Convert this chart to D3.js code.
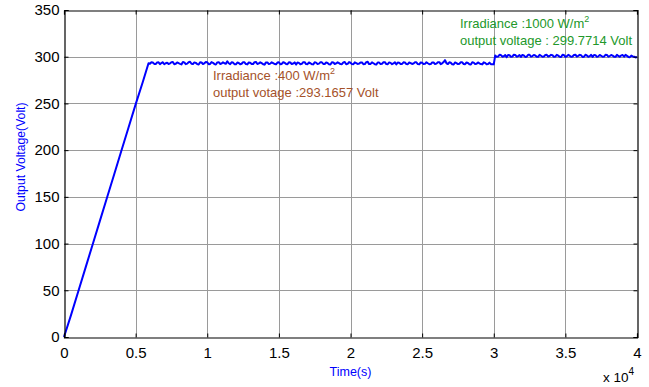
<!DOCTYPE html>
<html><head><meta charset="utf-8">
<script src="https://cdn.jsdelivr.net/npm/d3@7"></script>
<style>body{margin:0;background:#fff}svg{display:block;font-family:Arial,"Liberation Sans",sans-serif}</style>
</head><body>
<svg id="c" width="649" height="387"></svg>
<script>
// Data (time in units of 10^4 s, voltage in Volt)
const rampTime = [0,0.05,0.1,0.15,0.2,0.25,0.3,0.35,0.4,0.45,0.5,0.55,0.59];
const rampVolt = [0,24,49,74,99,124,149,174,199,224,249,273,293];
const plateau1Start = 0.6, plateau1Step = 0.02;
const plateau1Volt = [292.5,293.8,292.1,294.0,293.2,291.9,293.6,292.8,294.3,292.4,
293.1,291.8,293.9,292.6,294.6,292.2,293.4,291.7,293.8,292.9,
294.1,292.3,293.5,291.6,294.2,292.7,293.0,295.1,292.1,293.7,
291.9,293.3,292.5,294.0,291.8,293.6,292.2,294.4,292.9,293.1,
291.5,293.9,292.6,293.2,291.9,294.1,292.3,293.5,292.0,293.8,
292.7,291.6,293.4,292.4,294.2,292.0,293.0,291.8,293.7,292.6,
294.0,292.2,293.3,291.7,293.9,292.8,293.1,292.0,294.3,292.4,
293.6,291.9,293.2,292.6,293.8,292.1,294.5,292.3,293.0,291.6,
293.7,292.5,294.1,292.0,293.4,292.8,291.8,293.6,292.3,293.9,
292.0,293.2,292.7,294.0,291.9,293.5,292.4,293.0,292.1,293.8,
292.6,294.2,292.9,296.3,292.2,293.5,291.7,293.1,292.5,294.0,
292.0,293.3,291.6,293.7,292.4,292.9,291.8,293.4,292.2,292.0,
291.8];
// samples half-way between the plateau1Volt samples
const plateau1Half = [294.0,292.3,293.9,292.0,294.1,293.0,292.2,294.2,292.0,293.9,
292.4,294.3,292.0,294.1,292.5,293.9,292.1,294.0,292.2,294.3,
292.0,294.2,292.1,293.9,292.3,294.0,292.4,293.0,294.0,292.0,
293.8,292.0,294.2,292.1,293.9,292.3,294.1,292.2,294.0,292.0,
293.9,292.1,294.0,292.2,293.8,292.0,294.1,292.3,294.0,292.1,
293.9,293.8,292.0,294.2,292.1,293.8,292.0,294.1,292.2,294.0,
292.3,293.9,292.0,294.1,292.2,294.0,292.1,293.9,292.0,294.3,
292.1,294.0,292.3,293.9,292.0,294.2,292.1,294.0,292.0,293.8,
292.2,294.0,292.1,293.9,292.0,294.1,293.7,292.2,294.0,292.1,
293.8,292.3,294.0,292.1,293.9,292.2,294.1,292.0,293.8,292.2,
294.1,292.0,294.3,293.0,294.0,292.0,293.9,292.1,294.0,292.2,
293.8,292.0,294.1,292.2,293.9,292.1,294.0,292.0,293.7,291.9];
const plateau2Start = 3.01, plateau2Step = 0.02;
const plateau2Volt = [301.2,300.1,301.8,300.4,299.6,301.5,300.2,301.9,300.6,299.8,
301.3,300.0,302.1,300.7,301.4,299.9,301.0,300.3,302.0,300.8,
301.6,300.1,301.2,299.7,301.8,300.5,301.1,300.2,302.2,300.9,
301.5,300.0,301.3,300.6,299.8,301.7,300.4,301.0,300.1,301.9,
300.7,301.2,299.9,300.8,301.4,300.0,300.9,299.5,300.3,299.2];
const plateau2Half = [299.9,302.0,300.0,301.9,301.8,299.9,302.1,300.0,301.8,301.9,
299.8,302.0,300.1,301.9,300.0,302.1,299.9,301.9,300.2,302.0,
299.9,302.1,300.0,302.0,299.8,302.0,299.9,301.9,300.1,302.0,
299.8,302.1,299.9,302.0,301.8,299.9,301.9,300.0,302.1,300.0,
301.8,300.0,302.0,299.9,301.8,302.0,299.8,301.2,300.0];
const plateau2End = 4.0, plateau2EndVolt = 299.6;
const xTicks = [0,0.5,1,1.5,2,2.5,3,3.5,4];
const yTicks = [0,50,100,150,200,250,300,350];

const pts = [];
rampTime.forEach((t,i)=>pts.push([t,rampVolt[i]]));
plateau1Volt.forEach((v,i)=>pts.push([plateau1Start+i*plateau1Step,v]));
plateau1Half.forEach((v,i)=>pts.push([plateau1Start+(i+0.5)*plateau1Step,v]));
plateau2Volt.forEach((v,i)=>pts.push([plateau2Start+i*plateau2Step,v]));
plateau2Half.forEach((v,i)=>pts.push([plateau2Start+(i+0.5)*plateau2Step,v]));
pts.push([plateau2End,plateau2EndVolt]);
pts.sort((a,b)=>a[0]-b[0]);

const svg = d3.select("#c");
const L=64,T=10,R=637,B=337;
const x = d3.scaleLinear().domain([0,4]).range([L,R]);
const y = d3.scaleLinear().domain([0,350]).range([B,T]);

// grid
const g = svg.append("g");
g.selectAll("line.gx").data(xTicks.slice(1,-1)).join("line")
 .attr("x1",d=>Math.round(x(d))+0.5).attr("x2",d=>Math.round(x(d))+0.5)
 .attr("y1",T).attr("y2",B).attr("stroke","#9a9a9a").attr("stroke-width",1);
g.selectAll("line.gy").data(yTicks.slice(1,-1)).join("line")
 .attr("y1",d=>Math.round(y(d))+0.5).attr("y2",d=>Math.round(y(d))+0.5)
 .attr("x1",L).attr("x2",R).attr("stroke","#9a9a9a").attr("stroke-width",1);

// line
svg.append("path").datum(pts)
 .attr("d",d3.line().x(d=>x(d[0])).y(d=>y(d[1])))
 .attr("fill","none").attr("stroke","#0000ff").attr("stroke-width",2).attr("stroke-linejoin","round");

// axes
const fmt = d=> d===0?"0":String(d);
const ax = svg.append("g").attr("transform",`translate(0,${B+0.5})`)
 .call(d3.axisBottom(x).tickValues(xTicks).tickFormat(fmt).tickSize(-4).tickPadding(10));
const axT = svg.append("g").attr("transform",`translate(0,${T+0.5})`)
 .call(d3.axisTop(x).tickValues(xTicks).tickFormat("").tickSize(-4));
const ay = svg.append("g").attr("transform",`translate(${L+0.5},0)`)
 .call(d3.axisLeft(y).tickValues(yTicks).tickFormat(fmt).tickSize(-4).tickPadding(6));
const ayR = svg.append("g").attr("transform",`translate(${R+0.5},0)`)
 .call(d3.axisRight(y).tickValues(yTicks).tickFormat("").tickSize(-4));
[ax,axT,ay,ayR].forEach(a=>{
  a.select(".domain").attr("stroke","#000").attr("stroke-width",1.2);
  a.selectAll(".tick line").attr("stroke","#000");
  a.selectAll("text").attr("font-size",15).attr("font-family","Arial,'Liberation Sans',sans-serif").attr("fill","#000");
});
ax.selectAll(".tick text").attr("dy","0.71em");
ay.selectAll(".tick text").attr("x",-5);

// axis labels
svg.append("text").attr("x",x(2)).attr("y",376).attr("text-anchor","middle")
 .attr("font-size",12.5).attr("fill","#0000ff").text("Time(s)");
svg.append("text").attr("transform","translate(25,157) rotate(-90)").attr("text-anchor","middle")
 .attr("font-size",12.2).attr("fill","#0000ff").text("Output Voltage(Volt)");
const ex = svg.append("text").attr("x",603).attr("y",382).attr("font-size",13.5).attr("fill","#000");
ex.append("tspan").text("x 10");
ex.append("tspan").attr("font-size",10).attr("dy",-7).text("4");

// annotations
function note(xp, yp, color, l1, l2){
  const t1 = svg.append("text").attr("x",xp).attr("y",yp).attr("font-size",13).attr("fill",color);
  t1.append("tspan").text(l1);
  t1.append("tspan").attr("font-size",9).attr("dy",-6).text("2");
  svg.append("text").attr("x",xp).attr("y",yp+17).attr("font-size",13).attr("fill",color).text(l2);
}
note(213,80,"#a5522a","Irradiance :400 W/m","output votage :293.1657 Volt");
note(460,28,"#22982a","Irradiance :1000 W/m","output voltage : 299.7714 Volt");
</script>
</body></html>
